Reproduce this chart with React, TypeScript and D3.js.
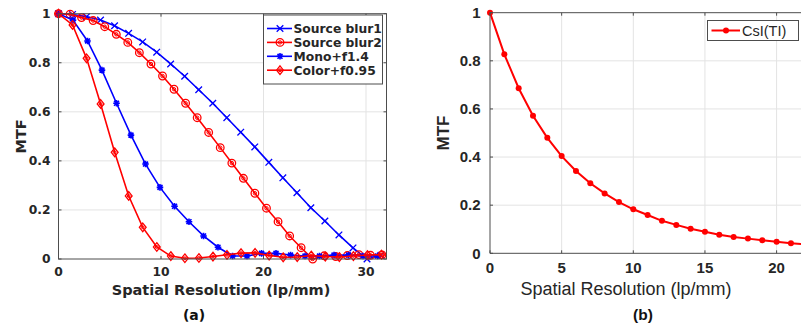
import React, { useEffect, useRef } from "react";
import * as d3 from "d3";

// ---------- Data: panel (a) ----------
const blur1X = [0, 1.37, 2.74, 4.10, 5.47, 6.84, 8.21, 9.58, 10.94, 12.31, 13.68, 15.05, 16.42, 17.78, 19.15, 20.52, 21.89, 23.26, 24.62, 25.99, 27.36, 28.73, 30.10, 31.46];
const blur1Y = [1.0, 0.997, 0.988, 0.974, 0.951, 0.920, 0.885, 0.843, 0.795, 0.745, 0.690, 0.635, 0.576, 0.517, 0.457, 0.394, 0.331, 0.270, 0.209, 0.155, 0.098, 0.045, 0.0, 0.015];

const blur2X = [0, 1.13, 2.25, 3.38, 4.51, 5.64, 6.76, 7.89, 9.02, 10.15, 11.27, 12.4, 13.53, 14.65, 15.78, 16.91, 18.04, 19.16, 20.29, 21.42, 22.55, 23.67, 24.8, 25.93, 27.05, 28.18, 29.31, 30.44, 31.56];
const blur2Y = [1.0, 0.998, 0.984, 0.972, 0.947, 0.916, 0.883, 0.841, 0.795, 0.746, 0.692, 0.635, 0.576, 0.516, 0.454, 0.391, 0.329, 0.268, 0.207, 0.152, 0.094, 0.046, 0.0, 0.013, 0.01, 0.014, 0.018, 0.015, 0.017];

const monoX = [0, 1.41, 2.83, 4.24, 5.66, 7.07, 8.49, 9.9, 11.32, 12.73, 14.15, 15.56, 16.98, 18.39, 19.81, 21.22, 22.64, 24.05, 25.46, 26.88, 28.3, 29.71, 31.12];
const monoY = [1.0, 0.974, 0.889, 0.770, 0.635, 0.505, 0.387, 0.292, 0.215, 0.152, 0.094, 0.048, 0.012, 0.012, 0.023, 0.023, 0.016, 0.012, 0.012, 0.016, 0.016, 0.012, 0.012];

const colorX = [0, 1.37, 2.74, 4.11, 5.48, 6.85, 8.22, 9.59, 10.96, 12.33, 13.7, 15.07, 16.44, 17.81, 19.18, 20.55, 21.92, 23.29, 24.66, 26.03, 27.4, 28.77, 30.14, 31.51];
const colorY = [1.0, 0.954, 0.818, 0.632, 0.435, 0.257, 0.129, 0.049, 0.012, 0.003, 0.004, 0.01, 0.017, 0.024, 0.025, 0.014, 0.007, 0.008, 0.014, 0.01, 0.008, 0.012, 0.016, 0.018];

const seriesNamesA = ["Source blur1", "Source blur2", "Mono+f1.4", "Color+f0.95"];
const xTicksA = [0, 10, 20, 30];
const yTicksA = [0, 0.2, 0.4, 0.6, 0.8, 1];

// ---------- Data: panel (b) ----------
const csiX = [0, 1, 2, 3, 4, 5, 6, 7, 8, 9, 10, 11, 12, 13, 14, 15, 16, 17, 18, 19, 20, 21, 22, 23, 24, 25];
const csiY = [1.0, 0.827, 0.686, 0.572, 0.480, 0.404, 0.342, 0.291, 0.249, 0.213, 0.183, 0.159, 0.135, 0.118, 0.102, 0.090, 0.077, 0.068, 0.061, 0.054, 0.048, 0.042, 0.037, 0.033, 0.029, 0.026];
const seriesNameB = "CsI(TI)";
const xTicksB = [0, 5, 10, 15, 20];
const yTicksB = [0, 0.2, 0.4, 0.6, 0.8, 1];

const BLUE = "#0000ff";
const RED = "#ff0000";
const AXIS = "#4d4d4d";
const TXT = "#262626";
const GRID = "#e3e3e3";
const DV = "'DejaVu Sans', sans-serif";
const LS = "'Liberation Sans', Arial, sans-serif";

type Marker = "x" | "o" | "*" | "d" | "dot";

function drawMarker(g: d3.Selection<SVGGElement, unknown, null, undefined>, kind: Marker, cx: number, cy: number, color: string) {
  const m = g.append("g").attr("transform", `translate(${cx},${cy})`);
  if (kind === "x") {
    const s = 3.3;
    m.append("path").attr("d", `M${-s},${-s}L${s},${s}M${-s},${s}L${s},${-s}`).attr("stroke", color).attr("stroke-width", 1.3).attr("fill", "none");
  } else if (kind === "o") {
    m.append("circle").attr("r", 3.8).attr("stroke", color).attr("stroke-width", 1.3).attr("fill", "none");
    m.append("circle").attr("r", 1.7).attr("stroke", color).attr("stroke-width", 1).attr("fill", "none");
  } else if (kind === "*") {
    const s = 3.3;
    m.append("path").attr("d", `M${-s},0L${s},0M0,${-s}L0,${s}M${-s * 0.75},${-s * 0.75}L${s * 0.75},${s * 0.75}M${-s * 0.75},${s * 0.75}L${s * 0.75},${-s * 0.75}`).attr("stroke", color).attr("stroke-width", 1.6).attr("fill", "none");
    m.append("circle").attr("r", 1.8).attr("fill", color);
  } else if (kind === "d") {
    m.append("path").attr("d", "M0,-4.3L3.4,0L0,4.3L-3.4,0Z").attr("stroke", color).attr("stroke-width", 1.3).attr("fill", "none");
    m.append("circle").attr("r", 1.4).attr("stroke", color).attr("stroke-width", 1).attr("fill", "none");
  } else {
    m.append("circle").attr("r", 3).attr("fill", color);
  }
}

export default function App() {
  const ref = useRef<SVGSVGElement | null>(null);

  useEffect(() => {
    const svg = d3.select(ref.current as SVGSVGElement);
    svg.selectAll("*").remove();
    svg.append("rect").attr("width", 801).attr("height", 327).attr("fill", "#fff");

    // ===================== Panel (a) =====================
    const xA = d3.scaleLinear().domain([0, 32]).range([58.5, 386.5]);
    const yA = d3.scaleLinear().domain([0, 1]).range([259, 13.7]);
    const gA = svg.append("g");

    xTicksA.filter((t) => t > 0).forEach((t) => {
      gA.append("line").attr("x1", xA(t)).attr("x2", xA(t)).attr("y1", yA(0)).attr("y2", yA(1)).attr("stroke", GRID).attr("stroke-width", 1);
    });
    yTicksA.filter((t) => t > 0 && t < 1).forEach((t) => {
      gA.append("line").attr("x1", xA(0)).attr("x2", xA(32)).attr("y1", yA(t)).attr("y2", yA(t)).attr("stroke", GRID).attr("stroke-width", 1);
    });

    const clipA = svg.append("clipPath").attr("id", "clipA");
    clipA.append("rect").attr("x", xA(0) - 6).attr("y", yA(1) - 6).attr("width", xA(32) - xA(0) + 6).attr("height", yA(0) - yA(1) + 12);

    const seriesA: { xs: number[]; ys: number[]; color: string; marker: Marker }[] = [
      { xs: blur1X, ys: blur1Y, color: BLUE, marker: "x" },
      { xs: blur2X, ys: blur2Y, color: RED, marker: "o" },
      { xs: monoX, ys: monoY, color: BLUE, marker: "*" },
      { xs: colorX, ys: colorY, color: RED, marker: "d" },
    ];
    const lineGen = d3.line<[number, number]>().x((d) => xA(d[0])).y((d) => yA(d[1]));
    const plotA = gA.append("g").attr("clip-path", "url(#clipA)");
    seriesA.forEach((s) => {
      const pts: [number, number][] = s.xs.map((x, i) => [x, s.ys[i]]);
      plotA.append("path").attr("d", lineGen(pts)).attr("stroke", s.color).attr("stroke-width", 1.6).attr("fill", "none");
      pts.forEach((p) => drawMarker(plotA as any, s.marker, xA(p[0]), yA(p[1]), s.color));
    });

    gA.append("rect").attr("x", xA(0)).attr("y", yA(1)).attr("width", xA(32) - xA(0)).attr("height", yA(0) - yA(1)).attr("fill", "none").attr("stroke", AXIS).attr("stroke-width", 1);
    xTicksA.forEach((t) => {
      gA.append("line").attr("x1", xA(t)).attr("x2", xA(t)).attr("y1", yA(0)).attr("y2", yA(0) - 3).attr("stroke", AXIS);
      gA.append("line").attr("x1", xA(t)).attr("x2", xA(t)).attr("y1", yA(1)).attr("y2", yA(1) + 3).attr("stroke", AXIS);
      gA.append("text").attr("x", xA(t)).attr("y", 272).attr("dy", "0.35em").attr("text-anchor", "middle").attr("font-family", DV).attr("font-weight", "bold").attr("font-size", 12.3).attr("fill", TXT).text(String(t));
    });
    yTicksA.forEach((t) => {
      gA.append("line").attr("x1", xA(0)).attr("x2", xA(0) + 3).attr("y1", yA(t)).attr("y2", yA(t)).attr("stroke", AXIS);
      gA.append("line").attr("x1", xA(32)).attr("x2", xA(32) - 3).attr("y1", yA(t)).attr("y2", yA(t)).attr("stroke", AXIS);
      gA.append("text").attr("x", 50.5).attr("y", yA(t)).attr("dy", "0.35em").attr("text-anchor", "end").attr("font-family", DV).attr("font-weight", "bold").attr("font-size", 12.3).attr("fill", TXT).text(String(t));
    });
    gA.append("text").attr("x", 221).attr("y", 290).attr("dy", "0.35em").attr("text-anchor", "middle").attr("font-family", DV).attr("font-weight", "bold").attr("font-size", 14.5).attr("fill", TXT).text("Spatial Resolution (lp/mm)");
    gA.append("text").attr("transform", `translate(21,${(yA(0) + yA(1)) / 2}) rotate(-90)`).attr("dy", "0.35em").attr("text-anchor", "middle").attr("font-family", DV).attr("font-weight", "bold").attr("font-size", 14.5).attr("fill", TXT).text("MTF");
    gA.append("text").attr("x", 194).attr("y", 315).attr("dy", "0.35em").attr("text-anchor", "middle").attr("font-family", DV).attr("font-weight", "bold").attr("font-size", 14).attr("fill", "#111").text("(a)");

    // legend (a)
    const leg = gA.append("g");
    leg.append("rect").attr("x", 263.5).attr("y", 15).attr("width", 119).attr("height", 69).attr("fill", "#fff").attr("stroke", AXIS).attr("stroke-width", 1);
    seriesA.forEach((s, i) => {
      const yy = 28.5 + i * 13.9;
      leg.append("line").attr("x1", 267).attr("x2", 292).attr("y1", yy).attr("y2", yy).attr("stroke", s.color).attr("stroke-width", 1.6);
      drawMarker(leg as any, s.marker, 280, yy, s.color);
      leg.append("text").attr("x", 293.5).attr("y", yy).attr("dy", "0.35em").attr("font-family", DV).attr("font-weight", "bold").attr("font-size", 12.3).attr("fill", TXT).text(seriesNamesA[i]);
    });

    // ===================== Panel (b) =====================
    const xB = d3.scaleLinear().domain([0, 25]).range([490, 490 + 25 * 14.33]);
    const yB = d3.scaleLinear().domain([0, 1]).range([253.3, 12.7]);
    const gB = svg.append("g");
    xTicksB.filter((t) => t > 0).forEach((t) => {
      gB.append("line").attr("x1", xB(t)).attr("x2", xB(t)).attr("y1", yB(0)).attr("y2", yB(1)).attr("stroke", GRID);
    });
    yTicksB.filter((t) => t > 0 && t < 1).forEach((t) => {
      gB.append("line").attr("x1", xB(0)).attr("x2", xB(25)).attr("y1", yB(t)).attr("y2", yB(t)).attr("stroke", GRID);
    });
    const lineB = d3.line<[number, number]>().x((d) => xB(d[0])).y((d) => yB(d[1]));
    const ptsB: [number, number][] = csiX.map((x, i) => [x, csiY[i]]);
    gB.append("path").attr("d", lineB(ptsB)).attr("stroke", RED).attr("stroke-width", 2).attr("fill", "none");
    ptsB.forEach((p) => drawMarker(gB as any, "dot", xB(p[0]), yB(p[1]), RED));

    gB.append("line").attr("x1", xB(0)).attr("x2", xB(25)).attr("y1", yB(0)).attr("y2", yB(0)).attr("stroke", AXIS);
    gB.append("line").attr("x1", xB(0)).attr("x2", xB(25)).attr("y1", yB(1)).attr("y2", yB(1)).attr("stroke", AXIS);
    gB.append("line").attr("x1", xB(0)).attr("x2", xB(0)).attr("y1", yB(0)).attr("y2", yB(1)).attr("stroke", AXIS);
    xTicksB.forEach((t) => {
      gB.append("line").attr("x1", xB(t)).attr("x2", xB(t)).attr("y1", yB(0)).attr("y2", yB(0) - 3).attr("stroke", AXIS);
      gB.append("line").attr("x1", xB(t)).attr("x2", xB(t)).attr("y1", yB(1)).attr("y2", yB(1) + 3).attr("stroke", AXIS);
      gB.append("text").attr("x", xB(t)).attr("y", 268).attr("dy", "0.35em").attr("text-anchor", "middle").attr("font-family", LS).attr("font-weight", "bold").attr("font-size", 15).attr("fill", TXT).text(String(t));
    });
    yTicksB.forEach((t) => {
      gB.append("line").attr("x1", xB(0)).attr("x2", xB(0) + 3).attr("y1", yB(t)).attr("y2", yB(t)).attr("stroke", AXIS);
      gB.append("text").attr("x", 480.5).attr("y", yB(t)).attr("dy", "0.35em").attr("text-anchor", "end").attr("font-family", LS).attr("font-weight", "bold").attr("font-size", 15).attr("fill", TXT).text(String(t));
    });
    gB.append("text").attr("x", 626).attr("y", 289).attr("dy", "0.35em").attr("text-anchor", "middle").attr("font-family", LS).attr("font-size", 18).attr("fill", TXT).text("Spatial Resolution (lp/mm)");
    gB.append("text").attr("transform", `translate(443,${(yB(0) + yB(1)) / 2}) rotate(-90)`).attr("dy", "0.35em").attr("text-anchor", "middle").attr("font-family", LS).attr("font-weight", "bold").attr("font-size", 17).attr("fill", TXT).text("MTF");
    gB.append("text").attr("x", 643).attr("y", 315).attr("dy", "0.35em").attr("text-anchor", "middle").attr("font-family", LS).attr("font-weight", "bold").attr("font-size", 15.5).attr("fill", "#111").text("(b)");

    // legend (b)
    gB.append("rect").attr("x", 707.5).attr("y", 20.5).attr("width", 91).attr("height", 20).attr("fill", "#fff").attr("stroke", AXIS);
    gB.append("line").attr("x1", 711.5).attr("x2", 740).attr("y1", 30.5).attr("y2", 30.5).attr("stroke", RED).attr("stroke-width", 2);
    drawMarker(gB as any, "dot", 726, 30.5, RED);
    gB.append("text").attr("x", 742).attr("y", 30.5).attr("dy", "0.35em").attr("font-family", LS).attr("font-size", 14.5).attr("fill", TXT).text(seriesNameB);
  }, []);

  return (
    <svg ref={ref} width={801} height={327} style={{ position: "absolute", left: 0, top: 0, display: "block" }} />
  );
}
